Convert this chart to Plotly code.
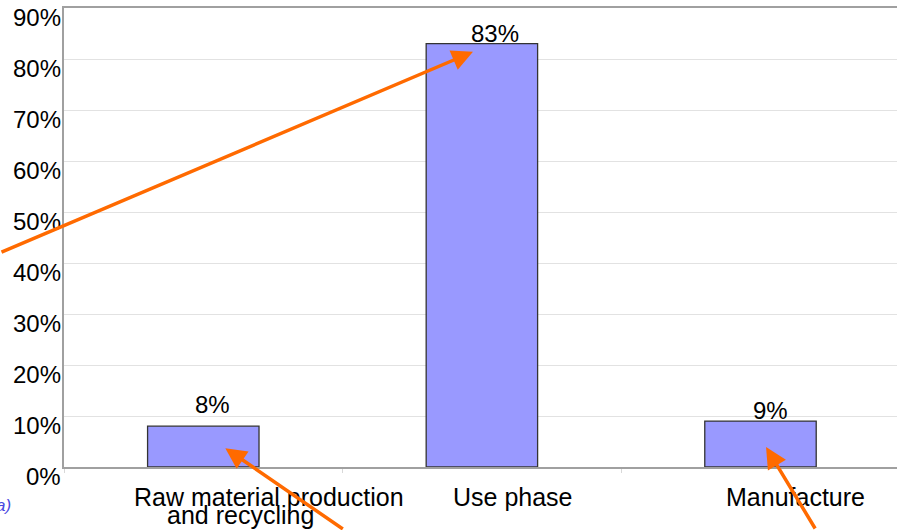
import plotly.graph_objects as go

# ---- data ----
categories = ["Raw material production and recycling", "Use phase", "Manufacture"]
values = [8, 83, 9]
value_labels = ["8%", "83%", "9%"]
line1_labels = ["Raw material production", "Use phase", "Manufacture"]
line2_labels = ["and recycling", "", ""]
y_ticks = [0, 10, 20, 30, 40, 50, 60, 70, 80, 90]
y_tick_labels = ["0%", "10%", "20%", "30%", "40%", "50%", "60%", "70%", "80%", "90%"]

# ---- styles (pixel offsets) ----
value_dx = [9, 13, 10]
value_dy = [6, -5, -5]
line1_dx = [66, 31, 35]
line2_dx = [37, 0, 0]

FONT = "Liberation Sans, Arial, sans-serif"
ORANGE = "#FF6A00"

fig = go.Figure()
fig.add_trace(go.Bar(
    x=categories, y=values, width=0.40,
    marker=dict(color="#9999FF", line=dict(color="#333333", width=1.3)),
    hoverinfo="skip",
))

annotations = []
# y-axis tick labels, placed on the y axis scale (slightly below each gridline)
for v, t in zip(y_ticks, y_tick_labels):
    annotations.append(dict(
        x=0, y=v, xref="paper", yref="y", text=t,
        showarrow=False, xanchor="right", yanchor="middle",
        xshift=-1, yshift=-9,
        font=dict(family=FONT, size=24, color="#000000")))

for i, c in enumerate(categories):
    annotations.append(dict(
        x=c, y=values[i], xref="x", yref="y", text=value_labels[i],
        showarrow=False, xanchor="center", yanchor="bottom",
        xshift=value_dx[i], yshift=value_dy[i],
        font=dict(family=FONT, size=24, color="#000000")))
    annotations.append(dict(
        x=c, y=0, xref="x", yref="paper", text=line1_labels[i],
        showarrow=False, xanchor="center", yanchor="middle",
        xshift=line1_dx[i], yshift=-30,
        font=dict(family=FONT, size=25, color="#000000")))
    if line2_labels[i]:
        annotations.append(dict(
            x=c, y=0, xref="x", yref="paper", text=line2_labels[i],
            showarrow=False, xanchor="center", yanchor="middle",
            xshift=line2_dx[i], yshift=-48,
            font=dict(family=FONT, size=25, color="#000000")))

# arrows (head in data coordinates, tail as pixel offset)
arrows = [
    dict(x=0.968, y=81.4, ax=-480, ay=201),
    dict(x=0.079, y=3.7, ax=119, ay=88),
    dict(x=2.02, y=3.9, ax=50, ay=88),
]
for a in arrows:
    annotations.append(dict(
        x=a["x"], y=a["y"], xref="x", yref="y", ax=a["ax"], ay=a["ay"],
        axref="pixel", ayref="pixel", text="", showarrow=True,
        arrowhead=2, arrowsize=1.2, arrowwidth=3.5, arrowcolor=ORANGE, standoff=0))

# cut-off caption fragment at the lower-left edge
annotations.append(dict(
    x=-0.061, y=-0.083, xref="paper", yref="paper", text="<i>a)</i>",
    showarrow=False, xanchor="right", yanchor="middle",
    font=dict(family=FONT, size=17, color="#4A4AE0")))

fig.update_layout(
    width=897, height=530,
    margin=dict(l=64, r=0, t=8, b=63, autoexpand=False),
    paper_bgcolor="white", plot_bgcolor="white",
    showlegend=False,
    annotations=annotations,
    xaxis=dict(
        type="category", range=[-0.5, 2.49], automargin=False,
        showticklabels=False,
        showline=True, linecolor="#A0A0A0", linewidth=2, mirror=True,
        ticks="outside", tickson="boundaries", ticklen=4, tickcolor="#D8D8D8",
        showgrid=False, zeroline=False, fixedrange=True,
    ),
    yaxis=dict(
        range=[0, 90], tickvals=y_ticks, showticklabels=False, automargin=False,
        showline=True, linecolor="#A0A0A0", linewidth=1.5,
        showgrid=True, gridcolor="#E2E2E2", gridwidth=1,
        zeroline=False, ticks="", fixedrange=True,
    ),
)

fig.write_html(
    "out.html",
    config={"displayModeBar": False},
    post_script="document.body.style.margin='0';document.body.style.overflow='hidden';",
)
